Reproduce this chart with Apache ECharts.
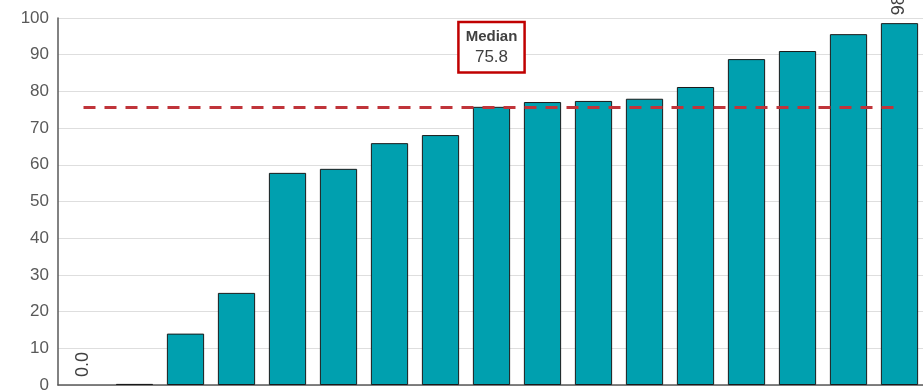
<!DOCTYPE html>
<html>
<head>
<meta charset="utf-8">
<script src="https://cdn.jsdelivr.net/npm/echarts@6/dist/echarts.min.js"></script>
<style>
  html, body { margin: 0; padding: 0; background: #fff; }
  #chart { width: 923px; height: 390px; }
</style>
</head>
<body>
<div id="chart"></div>
<script>
const categories = ["1", "2", "3", "4", "5", "6", "7", "8", "9", "10", "11", "12", "13", "14", "15", "16", "17"];
const values = [0.0, 0.3, 14.0, 25.1, 57.8, 58.9, 65.9, 68.1, 75.8, 77.1, 77.4, 78.0, 81.2, 88.8, 91.0, 95.6, 98.6];
const labelled = [0, 16];
const medianValue = 75.8;
const medianLabelPos = [8, 92];

(function () {
  const chart = echarts.init(document.getElementById("chart"));
  const font = "Liberation Sans, Arial, sans-serif";

  // zero bars have no outline; only the first and last get a value label
  const data = values.map((v, i) => ({
    value: v,
    itemStyle: v === 0 ? { borderWidth: 0 } : undefined,
    label: { show: labelled.indexOf(i) >= 0 }
  }));

  chart.setOption({
    animation: false,
    grid: { left: 58, right: -2, top: 18, bottom: 5, outerBoundsMode: "none", containLabel: false },
    xAxis: {
      type: "category",
      data: categories,
      axisLine: { lineStyle: { color: "#595959", width: 1.5 } },
      axisTick: { show: false },
      axisLabel: { show: false }
    },
    yAxis: {
      type: "value",
      min: 0,
      max: 100,
      interval: 10,
      axisLine: { show: true, lineStyle: { color: "#595959", width: 1.5 } },
      axisTick: { show: false },
      axisLabel: { color: "#595959", fontSize: 17, fontFamily: font, margin: 9 },
      splitLine: { lineStyle: { color: "#dedede", width: 1 } }
    },
    series: [{
      type: "bar",
      data: data,
      barCategoryGap: "27%",
      itemStyle: { color: "#00A0AF", borderColor: "#1a1a1a", borderWidth: 1 },
      label: {
        position: "top",
        rotate: 90,
        distance: 8,
        align: "left",
        verticalAlign: "middle",
        color: "#404040",
        fontSize: 18,
        fontFamily: font,
        formatter: (p) => p.value.toFixed(1)
      },
      markLine: {
        silent: true,
        symbol: "none",
        label: { show: false },
        lineStyle: { color: "#C0343A", width: 3, type: [12, 9] },
        data: [[{ coord: [0, medianValue] }, { coord: [16, medianValue] }]]
      },
      markPoint: {
        silent: true,
        symbol: "rect",
        symbolSize: 0,
        data: [{ coord: medianLabelPos }],
        label: {
          show: true,
          position: "inside",
          formatter: "{b|Median}\n{v|" + medianValue.toFixed(1) + "}",
          backgroundColor: "#fff",
          borderColor: "#C00000",
          borderWidth: 2.5,
          padding: [3, 6, 3, 6],
          rich: {
            b: { fontSize: 15, fontWeight: "bold", color: "#404040", fontFamily: font, lineHeight: 20, align: "center" },
            v: { fontSize: 17, color: "#404040", fontFamily: font, lineHeight: 22, align: "center" }
          }
        }
      }
    }]
  });
})();
</script>
</body>
</html>
